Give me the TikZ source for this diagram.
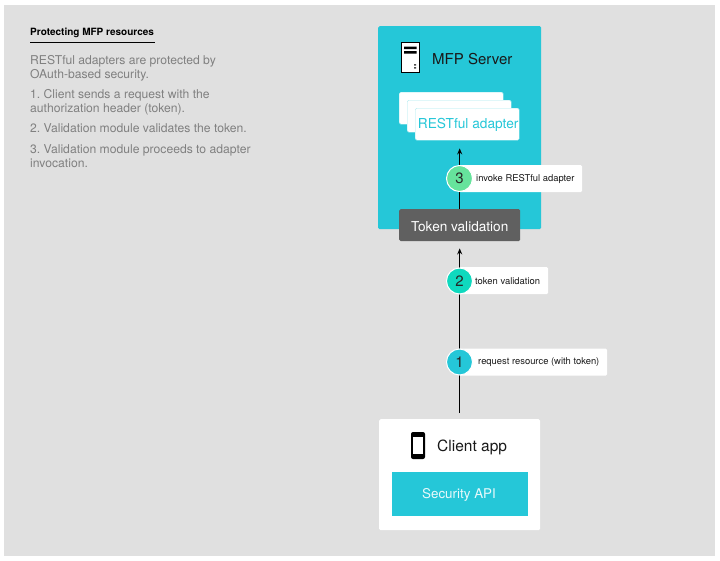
\documentclass[tikz,border=0pt]{standalone}
\usepackage{fontspec}
\setmainfont{TeX Gyre Heros}
\definecolor{bggray}{HTML}{E0E0E0}
\definecolor{teal1}{HTML}{25C7D8}
\definecolor{dark1}{HTML}{606060}
\definecolor{green3}{HTML}{66E39C}
\definecolor{mint2}{HTML}{0FD9BE}
\definecolor{body1}{HTML}{808080}
\usetikzlibrary{arrows.meta}
\tikzset{
  panel/.style={rounded corners=1.5pt,inner sep=0pt,anchor=north west},
  sheet/.style={panel,fill=white,draw=teal1!40!white,line width=0.4pt,minimum width=104pt,minimum height=32pt},
  num/.style={circle,draw=white,line width=1pt,minimum size=26pt,inner sep=0pt,font=\fontsize{15}{15}\selectfont,text=black!85},
  tag/.style={rounded corners=1.5pt,fill=white,inner sep=0pt,anchor=north west,minimum height=27pt},
  taglabel/.style={anchor=west,inner sep=0pt,font=\fontsize{9.4}{11}\selectfont,text=black!90},
  para/.style={anchor=north west,inner sep=0pt,align=left,text=body1,font=\frenchspacing\fontsize{12.15}{14}\selectfont},
  flow/.style={line width=1pt,black},
  tip/.style={-{Stealth[length=6pt,width=5pt]}},
}
\begin{document}
\begin{tikzpicture}[x=1pt,y=-1pt]
\useasboundingbox (0,0) rectangle (720,560);
\fill[bggray] (4,5) rectangle (715,556);
% left text
\node[anchor=base west,inner sep=0pt,font=\fontsize{10}{12}\selectfont\bfseries] (title) at (30,35) {Protecting MFP resources};
\coordinate (ruleA) at (30,42.5);
\coordinate (ruleB) at (155,42.5);
\draw[line width=0.9pt] (ruleA) -- (ruleB);
\node[para] (p1) at (30,55.5) {RESTful adapters are protected by\\OAuth-based security.};
\node[para] (p2) at (30,89.5) {1. Client sends a request with the\\authorization header (token).};
\node[para] (p3) at (30,123.5) {2. Validation module validates the token.};
\node[para] (p4) at (30,144) {3. Validation module proceeds to adapter\\invocation.};
% server
\node[panel,fill=teal1,minimum width=163pt,minimum height=203pt] (server) at (378,26) {};
\node[anchor=west,inner sep=0pt,font=\fontsize{15}{18}\selectfont,text=black!90] (servertext) at (432,59) {MFP Server};
\draw[black,fill=white,line width=1pt] (401,42.5) rectangle (419.5,72.5);
\fill[black] (404,46.5) rectangle (416.5,49) (404,51) rectangle (416.5,53.5);
\fill[black!70] (414,64) rectangle (416,65.5) (414,67) rectangle (416,68.5);
\node[sheet] (a1) at (399,92) {};
\node[sheet] (a2) at (407,100) {};
\node[sheet] (adapter) at (415,108) {};
\node[anchor=center,inner sep=0pt,text=teal1,font=\fontsize{13.7}{16}\selectfont] (adaptertext) at ([xshift=1pt,yshift=-1pt]adapter.center) {RESTful adapter};
\node[panel,fill=dark1,minimum width=121pt,minimum height=32pt] (token) at (399,209) {};
\node[inner sep=0pt,text=white,font=\fontsize{13.6}{16}\selectfont] (tokentext) at ([yshift=-1pt]token.center) {Token validation};
% client
\node[panel,fill=white,minimum width=161pt,minimum height=111pt] (client) at (379,419) {};
\node[anchor=west,inner sep=0pt,font=\fontsize{15.5}{18}\selectfont,text=black!90] (clienttext) at (437,447.5) {Client app};
\fill[black,rounded corners=2pt] (411,432) rectangle (425,459);
\fill[white] (413,436.5) rectangle (423,454);
\node[panel,fill=teal1,rounded corners=0pt,minimum width=136pt,minimum height=44pt] (api) at (391.5,472) {};
\node[inner sep=0pt,text=white!90!teal1,font=\fontsize{13.4}{16}\selectfont] (apitext) at ([xshift=-0.7pt,yshift=-1pt]api.center) {Security API};
% connectors
\draw[flow,tip,shorten <=6pt,shorten >=7pt] (client.north) -- (token.south);
\draw[flow,tip,shorten >=8pt] (token.north) -- (token.north |- adapter.south);
% tags
\node[tag,minimum width=123pt] (t3) at (459,165) {};
\node[tag,minimum width=89pt] (t2) at (459,267) {};
\node[tag,minimum width=148pt] (t1) at (459,348.5) {};
\node[num,fill=green3] (n3) at (459.5,178.5) {3};
\node[num,fill=mint2] (n2) at (459.5,281) {2};
\node[num,fill=teal1] (n1) at (459.5,362) {1};
\node[taglabel] (l3) at (476,179) {invoke RESTful adapter};
\node[taglabel] (l2) at (475,281.5) {token validation};
\node[taglabel] (l1) at (478,362.5) {request resource (with token)};
\end{tikzpicture}
\end{document}
